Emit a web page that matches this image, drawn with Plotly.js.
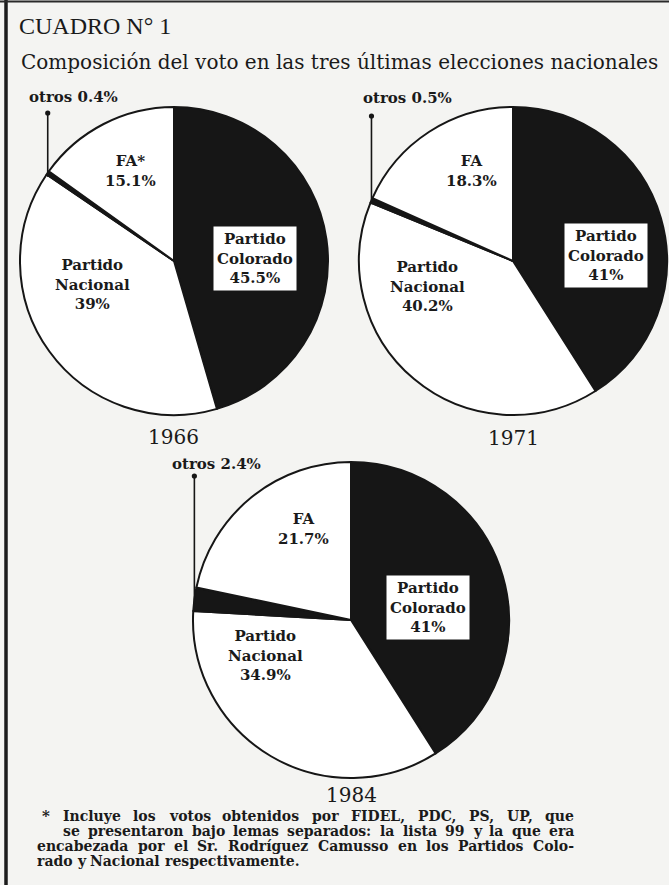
<!DOCTYPE html>
<html><head><meta charset="utf-8">
<script src="https://cdn.plot.ly/plotly-3.0.1.min.js"></script>
<style>html,body{margin:0;padding:0;background:#f4f4f2}</style>
</head><body><div id="chart" style="width:669px;height:885px"></div>
<script>
// ---- data ----
const parties = ["Partido Colorado", "Partido Nacional", "otros", "FA"];
const years = ["1966", "1971", "1984"];
const v1966 = [45.5, 39, 0.4, 15.1];
const v1971 = [41, 40.2, 0.5, 18.3];
const v1984 = [41, 34.9, 2.4, 21.7];
const faNames = ["FA*", "FA", "FA"];
const titleText = "CUADRO N° 1";
const subtitleText = "Composición del voto en las tres últimas elecciones nacionales";
const footLines = [
  "Incluye los votos obtenidos por FIDEL, PDC, PS, UP, que",
  "se presentaron bajo lemas separados: la lista 99 y la que era",
  "encabezada por el Sr. Rodríguez Camusso en los Partidos Colo-",
  "rado y Nacional respectivamente."
];

// ---- layout geometry (pixels) ----
const W = 669, H = 885;
const series = [v1966, v1971, v1984];
const geo = [
  {cx: 174, cy: 261, r: 154, yearY: 437, otrosLbl: [73, 97], dotY: 113,
   fa: [130, 171], nac: [92, 284], col: [255, 258]},
  {cx: 513, cy: 261, r: 154, yearY: 438, otrosLbl: [407, 98], dotY: 116,
   fa: [471, 171], nac: [427, 287], col: [606, 255]},
  {cx: 351, cy: 620, r: 158, yearY: 795, otrosLbl: [216, 464], dotY: 476,
   fa: [303, 529], nac: [265, 655], col: [428, 607]}
];
const px = x => x / W, py = y => 1 - y / H;

const serif = "DejaVu Serif, Liberation Serif, serif";
const ink = "#161616";

const traces = series.map((vals, i) => {
  const g = geo[i];
  return {
    type: "pie",
    labels: parties,
    values: vals,
    sort: false,
    direction: "clockwise",
    rotation: 0,
    textinfo: "none",
    hoverinfo: "skip",
    showlegend: false,
    marker: {colors: [ink, "#ffffff", ink, "#ffffff"], line: {color: ink, width: 2}},
    domain: {x: [px(g.cx - g.r), px(g.cx + g.r)], y: [py(g.cy + g.r), py(g.cy - g.r)]}
  };
});

const ann = [];
const shapes = [];
const txt = (x, y, text, size, opts = {}) => Object.assign({
  xref: "paper", yref: "paper", x: px(x), y: py(y), text: text,
  showarrow: false, xanchor: "center", yanchor: "middle",
  font: {family: serif, size: size, color: "#1a1a1a"}
}, opts);

ann.push(txt(17, 26, titleText, 24, {xanchor: "left", font: {family: "Liberation Serif, serif", size: 24, color: "#1a1a1a"}}));
ann.push(txt(19, 62, subtitleText, 20, {xanchor: "left"}));

series.forEach((vals, i) => {
  const g = geo[i];
  const b = s => "<b>" + s + "</b>";
  // otros leader: mid-angle of the "otros" wedge, from the data
  const before = vals[0] + vals[1];
  const total = vals.reduce((a, c) => a + c, 0);
  const theta = 2 * Math.PI * (before + vals[2] / 2) / total;
  const ex = g.cx + g.r * Math.sin(theta);
  const ey = g.cy - g.r * Math.cos(theta);
  shapes.push({type: "line", xref: "paper", yref: "paper",
    x0: px(ex), x1: px(ex), y0: py(ey + 4), y1: py(g.dotY),
    line: {color: ink, width: 1.6}});
  shapes.push({type: "circle", xref: "paper", yref: "paper",
    x0: px(ex - 2.6), x1: px(ex + 2.6), y0: py(g.dotY + 2.6), y1: py(g.dotY - 2.6),
    fillcolor: ink, line: {color: ink, width: 0}});
  ann.push(txt(g.otrosLbl[0], g.otrosLbl[1], b(parties[2] + " " + vals[2] + "%"), 15));
  ann.push(txt(g.fa[0], g.fa[1], b(faNames[i] + "<br>" + vals[3] + "%"), 15));
  ann.push(txt(g.nac[0], g.nac[1], b("Partido<br>Nacional<br>" + vals[1] + "%"), 15));
  ann.push(txt(g.col[0], g.col[1], b("Partido<br>Colorado<br>" + vals[0] + "%"), 15,
    {bgcolor: "#ffffff", borderpad: 3}));
  ann.push(txt(g.cx, g.yearY, years[i], 20));
});

// footnote: justified lines, words placed using measured widths
const fSize = 14;
const ctx = document.createElement("canvas").getContext("2d");
ctx.font = "bold " + fSize + "px 'DejaVu Serif'";
const footX0 = [62, 62, 36, 36], footX1 = 573, footY = [816, 831, 846, 861];
ann.push(txt(40, footY[0], "<b>*</b>", 15, {xanchor: "left"}));
footLines.forEach((line, k) => {
  const words = line.split(" ");
  const wd = words.map(w => ctx.measureText(w).width);
  const sum = wd.reduce((a, c) => a + c, 0);
  const justify = k < footLines.length - 1;
  const gap = justify ? (footX1 - footX0[k] - sum) / (words.length - 1) : ctx.measureText(" ").width;
  let x = footX0[k];
  words.forEach((w, j) => {
    ann.push(txt(x, footY[k], "<b>" + w + "</b>", fSize, {xanchor: "left", borderpad: 0}));
    x += wd[j] + gap;
  });
});

// frame: thick left rule and top rule
shapes.push({type: "line", xref: "paper", yref: "paper", x0: px(6), x1: px(6), y0: 0, y1: 1, line: {color: "#1c1c1c", width: 3.5}});
shapes.push({type: "line", xref: "paper", yref: "paper", x0: 0, x1: 1, y0: py(1.5), y1: py(1.5), line: {color: "#2a2a2a", width: 2}});

const layout = {
  width: W, height: H,
  margin: {l: 0, r: 0, t: 0, b: 0},
  paper_bgcolor: "#f4f4f2",
  annotations: ann,
  shapes: shapes
};
Plotly.newPlot("chart", traces, layout, {displayModeBar: false, staticPlot: true});
</script>
</body></html>
